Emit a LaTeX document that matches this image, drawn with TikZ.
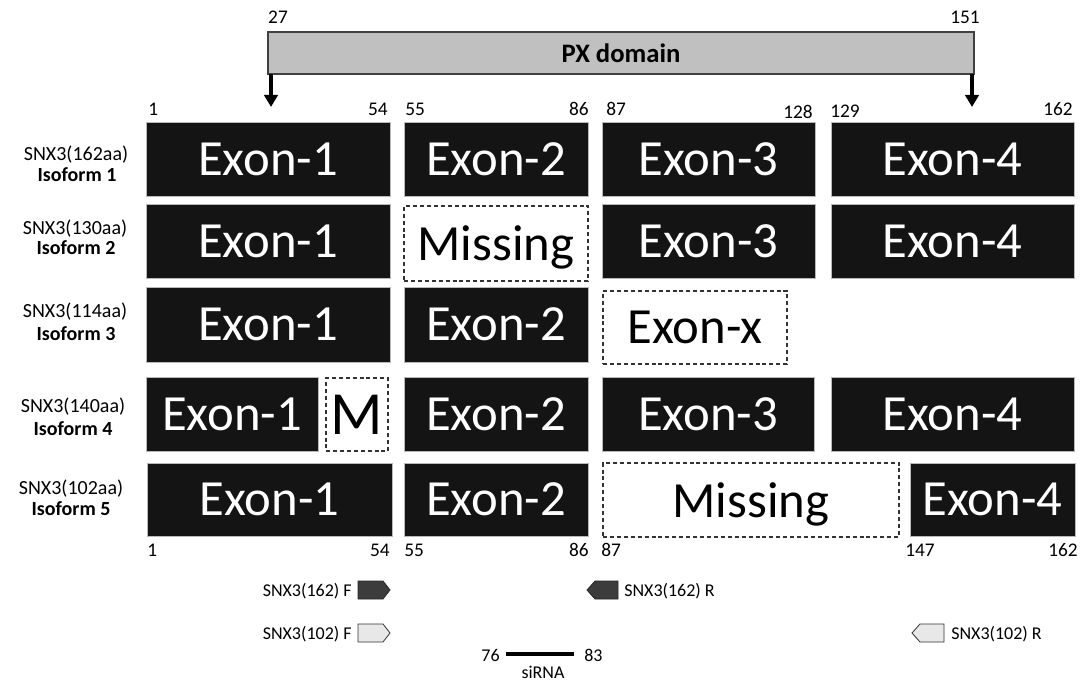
\documentclass[tikz,border=0pt]{standalone}
\usepackage{fontspec}
\setmainfont{Carlito}
\usetikzlibrary{arrows.meta}
\definecolor{exonblk}{HTML}{141414}
\definecolor{pxgray}{HTML}{C0C0C0}
\definecolor{primdark}{HTML}{3C3C3C}
\definecolor{primlight}{HTML}{E8E8E8}
\newcommand{\mkbox}[7]{\node[#6, minimum width={(#4-#2)*0.75pt}, minimum height={(#5-#3)*0.75pt}] (#1) at ({(#2+#4)/2},{(#3+#5)/2}) {#7};}
\tikzset{
  exon/.style={draw=gray!55, line width=0.5pt, fill=exonblk, text=white, font=\fontsize{38}{38}\selectfont, inner sep=0pt, outer sep=0pt, text depth=0pt},
  miss/.style={draw=black!80, dash pattern=on 3pt off 2.2pt, line width=0.8pt, fill=white, text=black, font=\fontsize{38}{38}\selectfont, inner sep=0pt, outer sep=0pt, text depth=0pt},
  pxbox/.style={draw=black!75, line width=1.1pt, fill=pxgray, font=\bfseries\fontsize{20}{20}\selectfont, inner sep=0pt, outer sep=0pt, text depth=0pt},
  num/.style={font=\fontsize{14.5}{14.5}\selectfont, inner sep=0pt, text depth=0pt},
  lab/.style={font=\fontsize{15}{15}\selectfont, inner sep=0pt, text depth=0pt},
  labb/.style={font=\bfseries\fontsize{15}{15}\selectfont, inner sep=0pt, text depth=0pt},
  plab/.style={font=\fontsize{13.5}{13.5}\selectfont, inner sep=0pt, text depth=0pt},
  parrow/.style={line width=2.6pt, -{Triangle[length=9pt, width=10pt]}},
  pdark/.style={fill=primdark, draw=black!85, line width=0.6pt},
  plight/.style={fill=primlight, draw=black!80, line width=0.6pt},
}
\begin{document}
\begin{tikzpicture}[x=0.75pt, y=-0.75pt]
\useasboundingbox (0,0) rectangle (1089,681);
% PX domain
\mkbox{px}{268}{32}{974}{74}{pxbox}{PX domain}
\node[num] (n27) at (278,17) {27};
\node[num] (n151) at (965,17) {151};
\coordinate (a1) at (271,107);
\coordinate (a2) at (972,107);
\draw[parrow] (a1 |- px.south) -- (a1);
\draw[parrow] (a2 |- px.south) -- (a2);
% top numbers
\node[num, anchor=west] (t1) at (148,109) {1};
\node[num, anchor=east] (t54) at (388,109) {54};
\node[num, anchor=west] (t55) at (405,109) {55};
\node[num, anchor=east] (t86) at (589,109) {86};
\node[num, anchor=west] (t87) at (606,109) {87};
\node[num, anchor=east] (t128) at (813,111.5) {128};
\node[num, anchor=west] (t129) at (830,111.5) {129};
\node[num, anchor=east] (t162) at (1073,109) {162};
% row 1
\mkbox{r1a}{146}{122}{390}{196}{exon}{Exon-1}
\mkbox{r1b}{404}{122}{588}{196}{exon}{Exon-2}
\mkbox{r1c}{602}{122}{815}{196}{exon}{Exon-3}
\mkbox{r1d}{831}{122}{1074}{196}{exon}{Exon-4}
% row 2
\mkbox{r2a}{146}{204}{390}{278}{exon}{Exon-1}
\mkbox{r2b}{404}{206}{588}{281}{miss}{Missing}
\mkbox{r2c}{602}{204}{815}{278}{exon}{Exon-3}
\mkbox{r2d}{831}{204}{1074}{278}{exon}{Exon-4}
% row 3
\mkbox{r3a}{146}{287}{390}{362}{exon}{Exon-1}
\mkbox{r3b}{404}{287}{588}{362}{exon}{Exon-2}
\mkbox{r3c}{603}{291}{787}{364}{miss}{Exon-x}
% row 4
\mkbox{r4a}{146}{377}{318}{451}{exon}{Exon-1}
\mkbox{r4m}{326}{378}{388}{451}{miss}{\fontsize{46}{46}\selectfont M}
\mkbox{r4b}{404}{377}{588}{451}{exon}{Exon-2}
\mkbox{r4c}{602}{377}{814}{451}{exon}{Exon-3}
\mkbox{r4d}{831}{377}{1074}{451}{exon}{Exon-4}
% row 5
\mkbox{r5a}{147}{463}{392}{536}{exon}{Exon-1}
\mkbox{r5b}{404}{463}{588}{536}{exon}{Exon-2}
\mkbox{r5c}{603}{463}{899}{537}{miss}{Missing}
\mkbox{r5d}{910}{463}{1075}{536}{exon}{Exon-4}
% bottom numbers
\node[num, anchor=west] (b1) at (147,550) {1};
\node[num, anchor=east] (b54) at (390,550) {54};
\node[num, anchor=west] (b55) at (404,550) {55};
\node[num, anchor=east] (b86) at (589,550) {86};
\node[num, anchor=west] (b87) at (601,550) {87};
\node[num, anchor=west] (b147) at (905,550) {147};
\node[num, anchor=east] (b162) at (1078,550) {162};
% left labels
\node[lab] (l1a) at (76,153) {SNX3(162aa)};
\node[labb] (l1b) at (77,175) {Isoform 1};
\node[lab] (l2a) at (75,227) {SNX3(130aa)};
\node[labb] (l2b) at (76,248) {Isoform 2};
\node[lab] (l3a) at (75,310) {SNX3(114aa)};
\node[labb] (l3b) at (76,334) {Isoform 3};
\node[lab] (l4a) at (73,405) {SNX3(140aa)};
\node[labb] (l4b) at (73,429) {Isoform 4};
\node[lab] (l5a) at (71,487) {SNX3(102aa)};
\node[labb] (l5b) at (71,509) {Isoform 5};
% primers
\draw[pdark] (358,581) -- (383,581) -- (390,590) -- (383,599) -- (358,599) -- cycle;
\node[plab, anchor=east] (pf162) at (352,590) {SNX3(162) F};
\draw[plight] (358,624) -- (383,624) -- (390,633) -- (383,642) -- (358,642) -- cycle;
\node[plab, anchor=east] (pf102) at (352,633) {SNX3(102) F};
\draw[pdark] (618,581) -- (595,581) -- (587,590) -- (595,599) -- (618,599) -- cycle;
\node[plab, anchor=west] (pr162) at (624,590) {SNX3(162) R};
\draw[plight] (944,624) -- (920,624) -- (912,633) -- (920,642) -- (944,642) -- cycle;
\node[plab, anchor=west] (pr102) at (951,633) {SNX3(102) R};
% siRNA
\node[plab, anchor=east] (s76) at (500,655) {76};
\node[plab, anchor=west] (s83) at (584,655) {83};
\coordinate (sl) at (506,654);
\coordinate (sr) at (574,654);
\draw[line width=2.6pt] (sl) -- (sr);
\node[plab] (sirna) at (543,672) {siRNA};
\end{tikzpicture}
\end{document}
